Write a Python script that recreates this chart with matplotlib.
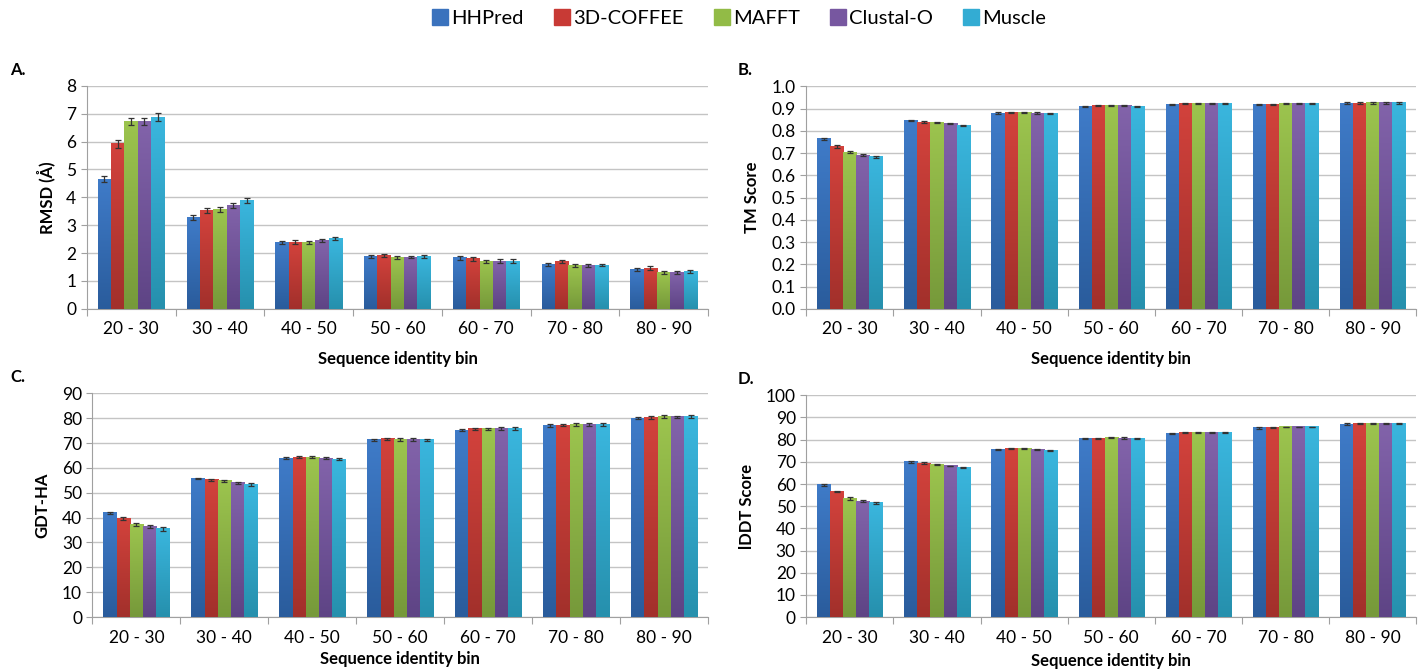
import numpy as np
import matplotlib
matplotlib.use("Agg")
import matplotlib.pyplot as plt
from matplotlib.colors import LinearSegmentedColormap
from matplotlib.lines import Line2D

plt.rcParams['font.family'] = ['Lato', 'DejaVu Sans']

bins = ['20 - 30', '30 - 40', '40 - 50', '50 - 60', '60 - 70', '70 - 80', '80 - 90']
methods = ['HHPred', '3D-COFFEE', 'MAFFT', 'Clustal-O', 'Muscle']

# rows = methods, columns = bins
rmsd = [[4.65, 3.27, 2.38, 1.89, 1.83, 1.60, 1.40],
        [5.92, 3.52, 2.40, 1.92, 1.80, 1.70, 1.46],
        [6.72, 3.57, 2.38, 1.84, 1.70, 1.56, 1.31],
        [6.72, 3.70, 2.44, 1.86, 1.72, 1.56, 1.31],
        [6.88, 3.90, 2.52, 1.89, 1.72, 1.57, 1.33]]
rmsd_err = [[0.10, 0.08, 0.05, 0.05, 0.06, 0.05, 0.06],
            [0.15, 0.09, 0.06, 0.05, 0.07, 0.06, 0.08],
            [0.14, 0.08, 0.07, 0.05, 0.06, 0.06, 0.06],
            [0.14, 0.09, 0.06, 0.05, 0.06, 0.06, 0.06],
            [0.15, 0.09, 0.06, 0.05, 0.07, 0.05, 0.06]]

tm = [[0.765, 0.847, 0.880, 0.911, 0.920, 0.920, 0.925],
      [0.731, 0.840, 0.883, 0.913, 0.922, 0.920, 0.924],
      [0.705, 0.839, 0.884, 0.913, 0.922, 0.924, 0.927],
      [0.692, 0.832, 0.880, 0.913, 0.922, 0.924, 0.927],
      [0.684, 0.824, 0.879, 0.911, 0.922, 0.923, 0.927]]
tm_err = [[0.004, 0.003, 0.003, 0.003, 0.002, 0.003, 0.003],
          [0.006, 0.003, 0.003, 0.003, 0.002, 0.003, 0.004],
          [0.006, 0.003, 0.002, 0.003, 0.002, 0.003, 0.004],
          [0.005, 0.003, 0.003, 0.003, 0.002, 0.003, 0.004],
          [0.005, 0.003, 0.003, 0.003, 0.002, 0.003, 0.004]]

gdt = [[41.9, 55.7, 63.9, 71.2, 75.1, 77.1, 80.0],
       [39.6, 55.3, 64.2, 71.6, 75.7, 77.2, 80.3],
       [37.3, 54.7, 64.2, 71.5, 75.7, 77.5, 80.5],
       [36.4, 54.1, 63.8, 71.5, 75.9, 77.5, 80.5],
       [35.4, 53.3, 63.4, 71.3, 75.8, 77.3, 80.5]]
gdt_err = [[0.3, 0.3, 0.5, 0.5, 0.4, 0.6, 0.5],
           [0.5, 0.4, 0.4, 0.5, 0.4, 0.5, 0.6],
           [0.5, 0.3, 0.4, 0.6, 0.4, 0.6, 0.6],
           [0.5, 0.4, 0.4, 0.5, 0.6, 0.6, 0.5],
           [0.7, 0.6, 0.4, 0.5, 0.6, 0.6, 0.6]]

lddt = [[59.6, 69.9, 75.6, 80.5, 82.9, 85.3, 87.0],
        [56.6, 69.4, 76.0, 80.7, 83.2, 85.4, 87.3],
        [53.5, 68.8, 75.9, 80.9, 83.4, 85.7, 87.4],
        [52.2, 68.1, 75.5, 80.7, 83.4, 85.7, 87.4],
        [51.6, 67.4, 75.2, 80.6, 83.4, 85.7, 87.4]]
lddt_err = [[0.3, 0.3, 0.3, 0.3, 0.3, 0.3, 0.3],
            [0.4, 0.3, 0.3, 0.2, 0.3, 0.3, 0.3],
            [0.5, 0.3, 0.2, 0.2, 0.2, 0.2, 0.2],
            [0.4, 0.2, 0.2, 0.3, 0.2, 0.2, 0.2],
            [0.4, 0.3, 0.3, 0.2, 0.2, 0.2, 0.2]]

top_cols = ['#3f7bc8', '#d2423c', '#9cc44e', '#8263aa', '#3ab6de']
bot_cols = ['#2a5c9c', '#a2302b', '#76993a', '#5e4485', '#2690ad']
legend_cols = ['#3a72bd', '#c83a35', '#92bb46', '#7757a0', '#33acd3']


def panel(rect, vals, errs, ylab, ymax, ystep, fmt, letter, letter_xy, xpad):
    ax = fig.add_axes(rect)
    x = np.arange(len(bins))
    w = 0.15
    for i in range(len(methods)):
        pos = x + (i - 2) * w
        bars = ax.bar(pos, vals[i], w, color=top_cols[i], zorder=2)
        cmap = LinearSegmentedColormap.from_list('g', [bot_cols[i], top_cols[i]])
        grad = np.linspace(0, 1, 64).reshape(-1, 1)
        for b in bars:
            bx, bw, bh = b.get_x(), b.get_width(), b.get_height()
            ax.imshow(grad, cmap=cmap, origin='lower', aspect='auto',
                      extent=[bx, bx + bw, 0, bh], zorder=3, interpolation='bilinear')
        ax.errorbar(pos, vals[i], yerr=errs[i], fmt='none', ecolor='#333333',
                    elinewidth=0.9, capsize=2.5, capthick=0.9, zorder=4)
    ax.set_xlim(-0.5, len(bins) - 0.5)
    ax.set_ylim(0, ymax)
    ticks = np.arange(0, ymax + ystep / 2, ystep)
    ax.set_yticks(ticks)
    ax.set_yticklabels([fmt % v for v in ticks])
    ax.set_xticks(np.arange(-0.5, len(bins), 1.0))
    ax.set_xticklabels([])
    ax.set_xticks(x, minor=True)
    ax.set_xticklabels(bins, minor=True)
    ax.tick_params(axis='x', which='major', length=5, color='#a0a0a0')
    ax.tick_params(axis='x', which='minor', length=0, pad=9, labelsize=12.5)
    ax.tick_params(axis='y', length=4, color='#a0a0a0', labelsize=12.5)
    ax.grid(axis='y', color='#c4c4c4', linewidth=1, zorder=0)
    ax.set_axisbelow(True)
    for s in ['top', 'right']:
        ax.spines[s].set_visible(False)
    ax.spines['left'].set_color('#a0a0a0')
    ax.spines['bottom'].set_color('#a0a0a0')
    ax.set_ylabel(ylab, fontsize=12, fontweight='bold', labelpad=8)
    ax.set_xlabel('Sequence identity bin', fontsize=12, fontweight='bold', labelpad=xpad)
    fig.text(letter_xy[0], letter_xy[1], letter, fontsize=12,
             fontweight='bold', ha='left', va='center')
    return ax


fig = plt.figure(figsize=(14.22, 6.70), dpi=100)

panel([0.061, 0.539, 0.437, 0.333], rmsd, rmsd_err, 'RMSD (Å)', 8, 1, '%d', 'A.',
      (0.007, 0.895), 10)
panel([0.567, 0.539, 0.429, 0.332], tm, tm_err, 'TM Score', 1.0, 0.1, '%.1f', 'B.',
      (0.519, 0.895), 10)
panel([0.065, 0.079, 0.433, 0.334], gdt, gdt_err, 'GDT-HA', 90, 10, '%d', 'C.',
      (0.007, 0.437), 4)
panel([0.567, 0.079, 0.429, 0.331], lddt, lddt_err, 'lDDT Score', 100, 10, '%d', 'D.',
      (0.519, 0.435), 5)

handles = [Line2D([], [], marker='s', linestyle='none', markersize=11,
                  markerfacecolor=c, markeredgecolor=c) for c in legend_cols]
fig.legend(handles, methods, loc='center', bbox_to_anchor=(0.52, 0.972), ncol=5,
           frameon=False, fontsize=14.5, handletextpad=0.15, handlelength=0.8,
           columnspacing=1.5)

fig.savefig('out.png', dpi=100)
